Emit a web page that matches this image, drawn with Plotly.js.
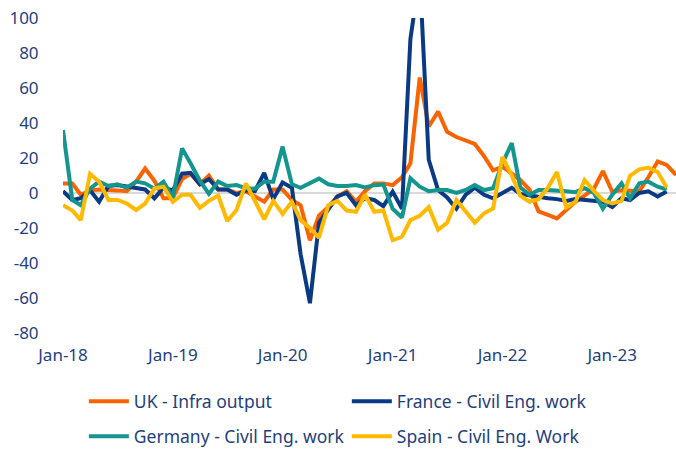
<!DOCTYPE html>
<html>
<head>
<meta charset="utf-8">
<script src="https://cdn.plot.ly/plotly-3.0.1.min.js"></script>
<style>
  html, body { margin: 0; padding: 0; background: #ffffff; }
  #chart { width: 676px; height: 450px; }
</style>
</head>
<body>
<div id="chart"></div>
<script>
// Monthly series, Jan-18 onwards (% y/y)
const startYear = 2018;
const ukInfra = [5.5, 5.5, -1, 1.5, 2, 2, 1.5, 1, 6.5, 14, 7, -3,
  -3, 8, 11, 5, 10, 2, 2, 0, 1, -2, -5, 2,
  2, -4, -7, -27, -13, -8, -2, 1, -5, 1, 5.5, 5.5,
  4.5, 9, 17, 66, 38, 46.5, 35, 32, 30, 28, 21, 13,
  15, 11, 7.5, 2, -10.5, -12.5, -14.5, -9.7, -5, -1.5, 2.5, 12.5,
  0.8, 1.5, 1, 1, 9, 18, 16, 10.3];
const franceCivil = [1, -4, -3, 1.5, -5, 4, 4.5, 3.5, 2.5, 2, -3, 3,
  1.5, 11, 11.5, 5, 8, 2, 2, -1, 1.5, 1, 11.5, -3.5,
  6, 3, -35, -63, -17, -9.5, -2, 0, -7, -3, -4, -7.5,
  0.8, -9, 88, 125, 19, 1.7, -2.5, -9, -1, 3, -1, -3,
  0, 3, -0.5, -1.5, -2, -3, -3.5, -4.5, -3.5, -4, -4, -5,
  -8, -3, -4, 0, 1, -2, 0.8];
const germanyCivil = [36, -4, -7, 2.5, 6.5, 4, 5, 3, 6.5, 5.5, 2.5, 6.5,
  -2.5, 25.5, 17, 7, -0.5, 6.5, 4, 4.5, 2.7, 2.5, 6.5, 6.5,
  26.5, 5, 3, 5.5, 8.2, 5, 4, 4, 4.5, 3.2, 4.5, 4.8,
  -9, -14, 8.4, 3.6, 1, 1.7, 1.7, 0, 1.7, 4.6, 1.7, 2.7,
  17, 28.5, 3.2, -1, 1.7, 1.7, 1.5, 1, 0.5, 2.7, 0, -9,
  -1, 5.5, -3, 5.5, 6.5, 3.6, 2];
const spainCivil = [-7, -10, -15.5, 11, 6.5, -4, -4, -6, -9.7, -6, 2.7, 3.6,
  -5, -1, -1, -8.5, -4.5, -1.5, -16, -9.7, 5.5, -4, -15, -4.5,
  -12, -5, -15.5, -20, -25.5, -7, -4.5, -10, -10.7, -1, -10.7, -10,
  -27, -25, -15.5, -13, -8, -21, -17, -4, -11, -17, -11.6, -8.8,
  20.7, 10, -1.5, -5, -3.5, 3, 12, -8.3, -5, 7.4, 1.2, -4,
  -6, -4.5, 9.8, 13.5, 14.5, 12, 3.2];

const seriesNames = ["UK - Infra output", "France - Civil Eng. work",
                     "Germany - Civil Eng. work", "Spain - Civil Eng. Work"];
const yTickVals = [-80, -60, -40, -20, 0, 20, 40, 60, 80, 100];
const yTickText = ["-80", "-60", "-40", "-20", "0", "20", "40", "60", "80", "100"];

function monthDates(n) {
  const out = [];
  for (let i = 0; i < n; i++) {
    const y = startYear + Math.floor(i / 12);
    const m = (i % 12) + 1;
    out.push(y + "-" + String(m).padStart(2, "0") + "-01");
  }
  return out;
}

const textColor = "#1f3f7d";
const fontFam = "Noto Sans, Open Sans, sans-serif";

const colors = ["#fa6400", "#0b3a84", "#14968f", "#ffba00"];
const legendIds = ["legend", "legend", "legend2", "legend2"];
const data = [ukInfra, franceCivil, germanyCivil, spainCivil].map((vals, k) => ({
  type: "scatter",
  mode: "lines",
  x: monthDates(vals.length),
  y: vals,
  name: seriesNames[k],
  line: { color: colors[k], width: 4 },
  legend: legendIds[k],
  hoverinfo: "x+y+name"
}));

const legendBase = {
  orientation: "h",
  xanchor: "left",
  yanchor: "middle",
  font: { family: fontFam, size: 17.5, color: textColor },
  bgcolor: "rgba(0,0,0,0)",
  entrywidth: 208,
  entrywidthmode: "pixels",
  itemwidth: 40
};

const layout = {
  width: 676,
  height: 450,
  margin: { l: 63, r: 0, t: 18, b: 117, autoexpand: false },
  paper_bgcolor: "#ffffff",
  plot_bgcolor: "#ffffff",
  font: { family: fontFam, size: 17, color: textColor },
  showlegend: true,
  xaxis: {
    type: "date",
    range: ["2018-01-01", "2023-08-01"],
    tick0: "2018-01-01",
    dtick: "M12",
    tickformat: "%b-%y",
    showgrid: false,
    zeroline: false,
    showline: false,
    ticks: "outside",
    ticklen: 7,
    tickcolor: "rgba(0,0,0,0)",
    tickfont: { family: fontFam, size: 17, color: textColor },
    fixedrange: true
  },
  yaxis: {
    range: [-80, 100],
    tickvals: yTickVals,
    ticktext: yTickText,
    showgrid: false,
    zeroline: true,
    zerolinecolor: "#d9d9d9",
    zerolinewidth: 2,
    showline: false,
    ticks: "outside",
    ticklen: 20,
    tickcolor: "rgba(0,0,0,0)",
    tickfont: { family: fontFam, size: 17, color: textColor },
    fixedrange: true
  },
  legend: Object.assign({}, legendBase, { x: 0.034, y: -0.217 }),
  legend2: Object.assign({}, legendBase, { x: 0.034, y: -0.328 })
};

Plotly.newPlot("chart", data, layout, { displayModeBar: false, staticPlot: true });
</script>
</body>
</html>
